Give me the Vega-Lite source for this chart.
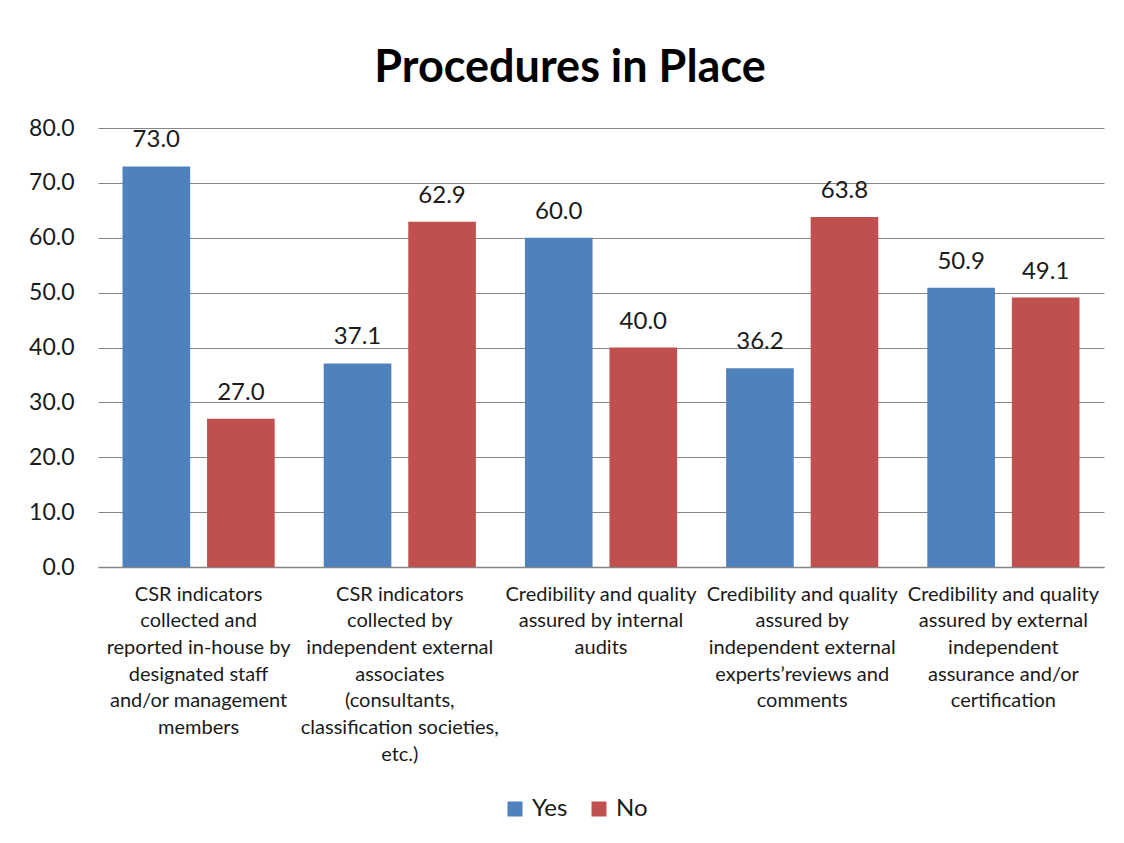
{
  "$schema": "https://vega.github.io/schema/vega-lite/v6.json",
  "width": 1006,
  "height": 439,
  "autosize": {"type": "none"},
  "padding": {"left": 98, "top": 128, "right": 20, "bottom": 276},
  "background": "white",
  "title": {
    "text": "Procedures in Place",
    "font": "Lato",
    "fontSize": 45,
    "fontWeight": "bold",
    "color": "#000000",
    "anchor": "middle",
    "dx": -31,
    "offset": 26
  },
  "data": {
    "values": [
      {"category": "CSR indicators|collected and|reported in-house by|designated staff|and/or management|members", "response": "Yes", "value": 73.0},
      {"category": "CSR indicators|collected and|reported in-house by|designated staff|and/or management|members", "response": "No", "value": 27.0},
      {"category": "CSR indicators|collected by|independent external|associates|(consultants,|classification societies,|etc.)", "response": "Yes", "value": 37.1},
      {"category": "CSR indicators|collected by|independent external|associates|(consultants,|classification societies,|etc.)", "response": "No", "value": 62.9},
      {"category": "Credibility and quality|assured by internal|audits", "response": "Yes", "value": 60.0},
      {"category": "Credibility and quality|assured by internal|audits", "response": "No", "value": 40.0},
      {"category": "Credibility and quality|assured by|independent external|experts’reviews and|comments", "response": "Yes", "value": 36.2},
      {"category": "Credibility and quality|assured by|independent external|experts’reviews and|comments", "response": "No", "value": 63.8},
      {"category": "Credibility and quality|assured by  external|independent|assurance and/or|certification", "response": "Yes", "value": 50.9},
      {"category": "Credibility and quality|assured by  external|independent|assurance and/or|certification", "response": "No", "value": 49.1}
    ]
  },
  "encoding": {
    "x": {
      "field": "category",
      "type": "nominal",
      "sort": null,
      "scale": {"paddingInner": 0, "paddingOuter": 0},
      "axis": {
        "title": null,
        "labelAngle": 0,
        "labelExpr": "split(datum.label, '|')",
        "labelFont": "Lato",
        "labelFontSize": 20,
        "labelLineHeight": 26.7,
        "labelColor": "#1a1a1a",
        "labelPadding": 17,
        "labelBaseline": "top",
        "labelLimit": 0,
        "ticks": false,
        "domain": true,
        "domainColor": "#868686",
        "domainWidth": 1.5,
        "grid": false
      }
    },
    "xOffset": {
      "field": "response",
      "type": "nominal",
      "sort": ["Yes", "No"],
      "scale": {"paddingInner": 0.2, "paddingOuter": 0.29}
    },
    "y": {
      "field": "value",
      "type": "quantitative",
      "scale": {"domain": [0, 80], "nice": false},
      "axis": {
        "title": null,
        "values": [0, 10, 20, 30, 40, 50, 60, 70, 80],
        "format": ".1f",
        "labelFont": "Lato",
        "labelFontSize": 23,
        "labelColor": "#1a1a1a",
        "labelPadding": 24,
        "ticks": false,
        "domain": false,
        "grid": true,
        "gridColor": "#868686",
        "gridWidth": 1
      }
    }
  },
  "layer": [
    {
      "mark": {"type": "bar"},
      "encoding": {
        "color": {
          "field": "response",
          "type": "nominal",
          "sort": ["Yes", "No"],
          "scale": {"domain": ["Yes", "No"], "range": ["#4F81BD", "#C0504D"]},
          "legend": {
            "title": null,
            "orient": "none",
            "direction": "horizontal",
            "legendX": 405,
            "legendY": 669,
            "symbolType": "square",
            "symbolSize": 225,
            "symbolStrokeWidth": 0,
            "labelFont": "Lato",
            "labelFontSize": 24,
            "labelColor": "#1a1a1a",
            "labelOffset": 5,
            "columnPadding": 19
          }
        }
      }
    },
    {
      "mark": {"type": "text", "baseline": "bottom", "dy": -14, "font": "Lato", "fontSize": 24, "color": "#1a1a1a"},
      "encoding": {
        "text": {"field": "value", "type": "quantitative", "format": ".1f"}
      }
    }
  ],
  "config": {
    "view": {"stroke": null}
  }
}
